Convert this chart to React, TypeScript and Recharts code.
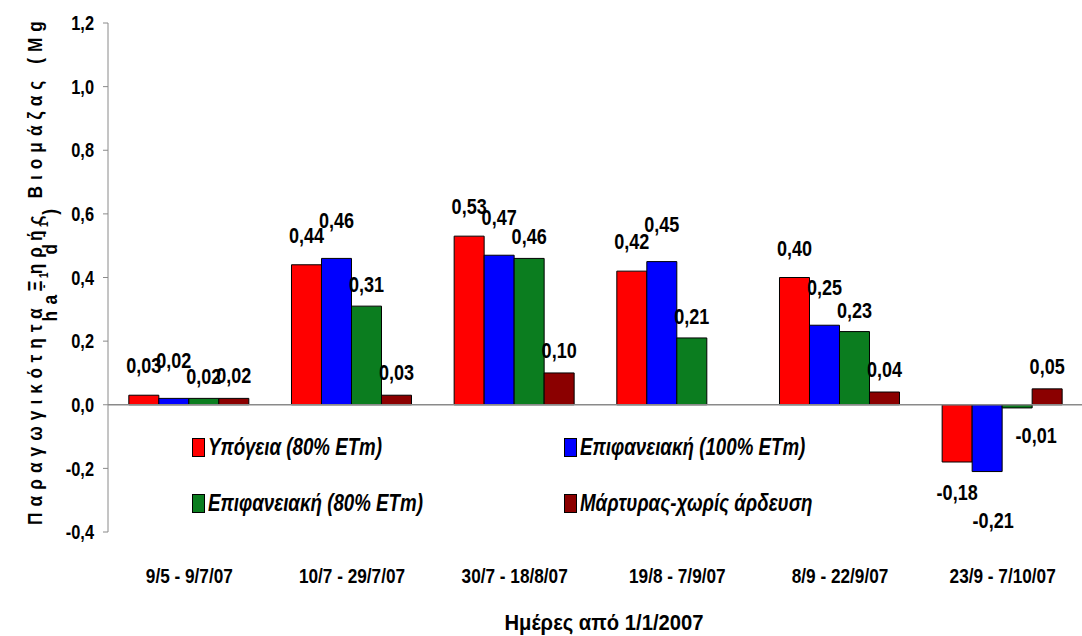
import React from 'react';
import {
  BarChart,
  Bar,
  XAxis,
  YAxis,
  Legend,
  LabelList,
  Label,
  ReferenceLine,
} from 'recharts';

const FONT = '"Liberation Sans", Arial, sans-serif';
const SX = 0.82; // horizontal squeeze, imitates a narrow face

// Περίοδοι (άξονας x)
const periods = ['9/5 - 9/7/07', '10/7 - 29/7/07', '30/7 - 18/8/07', '19/8 - 7/9/07', '8/9 - 22/9/07', '23/9 - 7/10/07'];

// Τιμές σειρών (Mg ha-1 d-1)
const ypogeia80 = [0.03, 0.44, 0.53, 0.42, 0.4, -0.18];
const epif100 = [0.02, 0.46, 0.47, 0.45, 0.25, -0.21];
const epif80 = [0.02, 0.31, 0.46, 0.21, 0.23, -0.01];
const martyras = [0.02, 0.03, 0.1, 0.0, 0.04, 0.05];

const yTicks = [-0.4, -0.2, 0, 0.2, 0.4, 0.6, 0.8, 1.0, 1.2];

// posDy: gap above a positive bar; negDx / negDy: label spot below a negative bar
const series = [
  { key: 'ypogeia80', name: 'Υπόγεια (80% ETm)', color: '#ff0000', posDy: 22, negDx: 0, negDy: 22 },
  { key: 'epif100', name: 'Επιφανειακή (100% ETm)', color: '#0000ff', posDy: 30, negDx: 6, negDy: 41 },
  { key: 'epif80', name: 'Επιφανειακή (80% ETm)', color: '#0b7d1f', posDy: 14, negDx: 19, negDy: 19 },
  { key: 'martyras', name: 'Μάρτυρας-χωρίς άρδευση', color: '#8b0000', posDy: 15, negDx: 0, negDy: 22 },
];

const data = periods.map((p, i) => ({
  period: p,
  ypogeia80: ypogeia80[i],
  epif100: epif100[i],
  epif80: epif80[i],
  martyras: martyras[i],
}));

const fmt = (v: number) => v.toFixed(2).replace('.', ',');

function NarrowText({ x, y, anchor = 'middle', size = 20, dy = 0, sx = SX, children }: any) {
  return (
    <text
      transform={`translate(${x},${y}) scale(${sx},1)`}
      x={0}
      y={0}
      dy={dy}
      textAnchor={anchor}
      fontFamily={FONT}
      fontWeight="bold"
      fontSize={size}
      fill="#000"
    >
      {children}
    </text>
  );
}

const makeValueLabel = (posDy: number, negDx: number, negDy: number) => (props: any) => {
  const { x, y, width, height, value } = props;
  const top = Math.min(y, y + height);
  const bottom = Math.max(y, y + height);
  const cx = x + width / 2;
  if (value < 0) {
    return (
      <NarrowText x={cx + negDx} y={bottom + negDy} dy="0.72em" size={22}>
        {fmt(value)}
      </NarrowText>
    );
  }
  return (
    <NarrowText x={cx} y={top - posDy} size={22}>
      {fmt(value)}
    </NarrowText>
  );
};

const XTick = (props: any) => {
  const { x, y, payload } = props;
  return (
    <NarrowText x={x} y={y} dy="0.71em" size={21}>
      {payload.value}
    </NarrowText>
  );
};

const YTick = (props: any) => {
  const { x, y, payload } = props;
  return (
    <NarrowText x={x} y={y} dy="0.36em" anchor="end" size={20}>
      {payload.value.toFixed(1).replace('.', ',')}
    </NarrowText>
  );
};

const renderYTitle = () => (
  <g fontFamily={FONT} fontWeight="bold" fontSize={21} fill="#000">
    <text transform={`translate(42,270) rotate(-90) scale(${SX},1)`} textAnchor="middle" letterSpacing={7.4}>
      Παραγωγικότητα Ξηρής Βιομάζας (Mg
    </text>
    <text transform={`translate(57,262) rotate(-90) scale(${SX},1)`} textAnchor="middle" letterSpacing={8}>
      ha<tspan dy={-9} fontSize={13}>-1</tspan>
      <tspan dy={9}> d</tspan>
      <tspan dy={-9} fontSize={13}>-1</tspan>
      <tspan dy={9}>)</tspan>
    </text>
  </g>
);

const renderXTitle = () => (
  <NarrowText x={604} y={630} size={22} sx={0.92}>
    Ημέρες από 1/1/2007
  </NarrowText>
);

const renderLegend = () => (
  <div
    style={{
      display: 'grid',
      gridTemplateColumns: '372px 340px',
      rowGap: 28,
      fontFamily: FONT,
      fontWeight: 'bold',
      fontStyle: 'italic',
      fontSize: 24,
      color: '#000',
    }}
  >
    {series.map((s) => (
      <div key={s.key} style={{ display: 'flex', alignItems: 'center', height: 28, whiteSpace: 'nowrap' }}>
        <span
          style={{
            display: 'inline-block',
            flex: 'none',
            width: 11,
            height: 17,
            background: s.color,
            border: '1px solid #000',
            marginRight: 3,
          }}
        />
        <span style={{ display: 'inline-block', transform: 'scaleX(0.78)', transformOrigin: 'left center' }}>
          {s.name}
        </span>
      </div>
    ))}
  </div>
);

export default function App() {
  return (
    <div style={{ position: 'absolute', left: 0, top: 0, width: 1082, height: 636, overflow: 'hidden', background: '#fff' }}>
      <BarChart
        width={1090}
        height={636}
        data={data}
        margin={{ top: 23, right: 6, bottom: 4, left: 0 }}
        barCategoryGap="12.8%"
        barGap={0}
      >
        <XAxis
          dataKey="period"
          axisLine={false}
          tickLine={false}
          tickSize={0}
          tickMargin={36}
          height={100}
          interval={0}
          tick={<XTick />}
        >
          <Label content={renderXTitle} />
        </XAxis>
        <YAxis
          domain={[-0.4, 1.2]}
          ticks={yTicks}
          width={108}
          interval={0}
          allowDataOverflow
          stroke="#8a8a8a"
          tickSize={5}
          tickMargin={9}
          tick={<YTick />}
        >
          <Label content={renderYTitle} />
        </YAxis>
        <ReferenceLine y={0} stroke="#8a8a8a" strokeWidth={1.5} />
        <Legend
          layout="horizontal"
          verticalAlign="middle"
          align="center"
          content={renderLegend}
          wrapperStyle={{ left: 192, top: 433, width: 720 }}
        />
        {series.map((s) => (
          <Bar
            key={s.key}
            dataKey={s.key}
            name={s.name}
            fill={s.color}
            stroke="#000"
            strokeWidth={1}
            isAnimationActive={false}
          >
            <LabelList dataKey={s.key} content={makeValueLabel(s.posDy, s.negDx, s.negDy)} />
          </Bar>
        ))}
      </BarChart>
    </div>
  );
}
